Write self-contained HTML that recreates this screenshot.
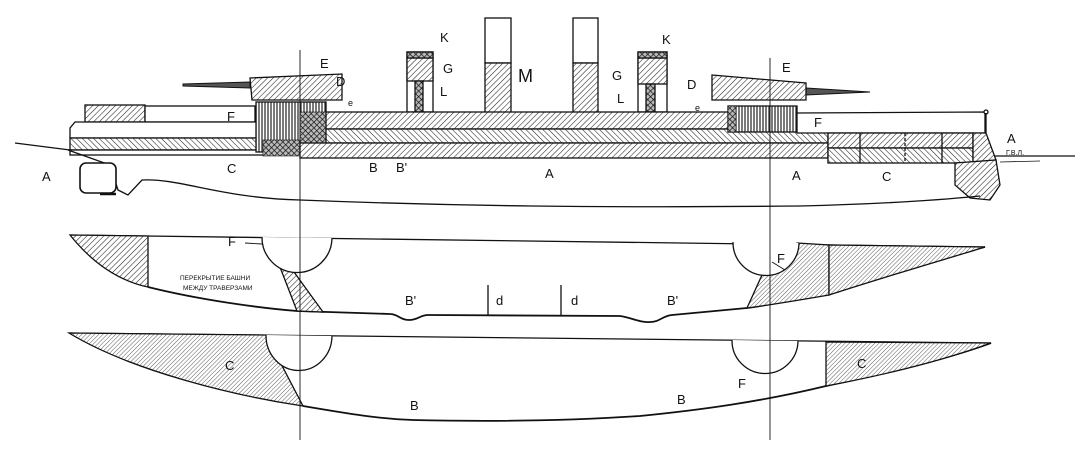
<!DOCTYPE html>
<html><head><meta charset="utf-8"><style>
html,body{margin:0;padding:0;background:#fff;}
svg{display:block;}
text{font-family:"Liberation Sans",sans-serif;fill:#111;}
</style></head><body>
<svg width="1079" height="461" viewBox="0 0 1079 461" xmlns="http://www.w3.org/2000/svg">
<defs>
<pattern id="h1" patternUnits="userSpaceOnUse" width="4" height="4" patternTransform="rotate(45)"><rect width="4" height="4" fill="#fff"/><line x1="0" y1="0" x2="0" y2="4" stroke="#222" stroke-width="1.1"/></pattern>
<pattern id="h2" patternUnits="userSpaceOnUse" width="4" height="4" patternTransform="rotate(-45)"><rect width="4" height="4" fill="#fff"/><line x1="0" y1="0" x2="0" y2="4" stroke="#222" stroke-width="1.1"/></pattern>
<pattern id="hv" patternUnits="userSpaceOnUse" width="3" height="6"><rect width="3" height="6" fill="#fff"/><line x1="1" y1="0" x2="1" y2="6" stroke="#222" stroke-width="1.2"/></pattern>
<pattern id="hx" patternUnits="userSpaceOnUse" width="4" height="4" patternTransform="rotate(45)"><rect width="4" height="4" fill="#bbb"/><line x1="0" y1="0" x2="0" y2="4" stroke="#111" stroke-width="1.4"/><line x1="0" y1="0" x2="4" y2="0" stroke="#111" stroke-width="1.4"/></pattern>
<pattern id="hf" patternUnits="userSpaceOnUse" width="3" height="3" patternTransform="rotate(45)"><rect width="3" height="3" fill="#fff"/><line x1="0" y1="0" x2="0" y2="3" stroke="#333" stroke-width="0.8"/></pattern>
</defs>
<g stroke="#111" stroke-width="1.3" fill="none">
<line x1="15" y1="143" x2="70" y2="150"/>
<line x1="985" y1="156" x2="1075" y2="156"/>
<line x1="1000" y1="162" x2="1040" y2="161" stroke-width="0.8"/>
<rect x="485" y="18" width="26" height="45" fill="#fff"/>
<rect x="485" y="63" width="26" height="50" fill="url(#h1)"/>
<rect x="573" y="18" width="25" height="45" fill="#fff"/>
<rect x="573" y="63" width="25" height="50" fill="url(#h1)"/>
<rect x="407" y="52" width="26" height="60" fill="#fff"/>
<rect x="407" y="58" width="26" height="23" fill="url(#h1)"/>
<rect x="407" y="52" width="26" height="6" fill="url(#hx)"/>
<rect x="415" y="81" width="8" height="31" fill="url(#hx)"/>
<rect x="638" y="52" width="29" height="60" fill="#fff"/>
<rect x="638" y="58" width="29" height="26" fill="url(#h1)"/>
<rect x="638" y="52" width="29" height="6" fill="url(#hx)"/>
<rect x="646" y="84" width="9" height="28" fill="url(#hx)"/>
<path d="M183 84 L250 82 L250 88 L183 86Z" fill="#555" stroke-width="1"/>
<path d="M806 88 L870 92 L806 95Z" fill="#555" stroke-width="1"/>
<path d="M250 78 L342 74 L342 100 L252 100 Z" fill="url(#h1)"/>
<path d="M712 75 L806 83 L806 100 L712 100 Z" fill="url(#h1)"/>
<rect x="85" y="105" width="60" height="17" fill="url(#h1)"/>
<rect x="145" y="106" width="110" height="16" fill="#fff"/>
<path d="M75 122 L265 122 L265 138 L70 138 L70 128 Z" fill="#fff"/>
<rect x="70" y="138" width="195" height="12" fill="url(#h2)"/>
<rect x="70" y="150" width="230" height="5" fill="#fff"/>
<rect x="256" y="102" width="70" height="50" fill="url(#hv)"/>
<rect x="300" y="112" width="26" height="32" fill="url(#hx)" stroke-width="0.6"/>
<rect x="263" y="140" width="37" height="16" fill="url(#hx)" stroke-width="0.6"/>
<rect x="326" y="112" width="404" height="17" fill="url(#h1)"/>
<rect x="326" y="129" width="502" height="14" fill="url(#h2)"/>
<rect x="300" y="143" width="528" height="15" fill="url(#h1)"/>
<rect x="728" y="106" width="69" height="26" fill="url(#hv)"/>
<rect x="728" y="106" width="8" height="26" fill="url(#hx)" stroke-width="0.6"/>
<path d="M797 113 L985 112 L985 133 L797 133 Z" fill="#fff"/>
<circle cx="986" cy="112" r="2" fill="#fff"/>
<rect x="828" y="133" width="145" height="15" fill="url(#h1)"/>
<rect x="828" y="148" width="145" height="15" fill="url(#h2)"/>
<line x1="860" y1="133" x2="860" y2="163"/><line x1="905" y1="133" x2="905" y2="163" stroke-dasharray="3,2"/><line x1="942" y1="133" x2="942" y2="163"/>
<path d="M973 133 L986 133 L996 160 L973 163 Z" fill="url(#h1)"/>
<path d="M955 163 L996 160 L1000 185 L990 200 L970 198 L955 185 Z" fill="url(#h1)"/>
<line x1="986" y1="113" x2="986" y2="133"/>
<path d="M68 150 L110 165 L118 190 L128 195 L142 180 C180 178 220 198 300 200 C450 206 600 208 800 206 C880 204 940 200 980 196" />
<rect x="80" y="163" width="36" height="30" rx="6" fill="#fff" stroke-width="1.6"/>
<line x1="100" y1="194" x2="116" y2="194" stroke-width="2.5"/>
<line x1="70" y1="235" x2="985" y2="247"/>
<path d="M70 235 L148 236 L148 287 C115 280 90 260 70 235Z" fill="url(#h1)"/>
<path d="M148 287 C200 300 260 308 297 311 L390 314 C398 314 400 320 409 320 C418 320 420 315 428 315 L620 316 C630 317 640 323 650 322 C660 322 662 316 672 315 L747 308 C790 302 820 293 840 285 C900 268 950 255 985 247" stroke-width="1.8"/>
<path d="M278 262 L294 272 L323 312 L297 311 Z" fill="url(#h1)"/>
<path d="M262 237 A35 35 0 0 0 332 238" fill="#fff"/>
<path d="M797 243 L829 245 L829 295 C800 300 770 305 747 308 L762 275 Z" fill="url(#hf)"/>
<path d="M829 245 L985 247 C950 258 900 272 829 295 Z" fill="url(#hf)"/>
<path d="M733 242 A33 33 0 0 0 799 243" fill="#fff"/>
<line x1="488" y1="285" x2="488" y2="315"/>
<line x1="561" y1="285" x2="561" y2="315"/>
<path d="M245 243 L262 244" stroke-width="0.9"/><path d="M772 262 L785 270" stroke-width="0.9"/>
<line x1="69" y1="333" x2="991" y2="343"/>
<path d="M69 333 L266 335 L303 406 C230 395 130 370 69 333 Z" fill="url(#hf)"/>
<path d="M303 406 C350 414 380 419 413 420 C500 422 580 420 640 416 C700 410 760 402 826 386 C900 370 950 358 991 343" stroke-width="1.8"/>
<path d="M826 342 L991 343 C950 358 900 372 826 386 Z" fill="url(#hf)"/>
<path d="M266 335 A33 35 0 0 0 332 336" fill="#fff"/>
<path d="M732 340 A33 33 0 0 0 798 341" fill="#fff"/>
<line x1="300" y1="50" x2="300" y2="440" stroke-width="0.9"/>
<line x1="770" y1="58" x2="770" y2="440" stroke-width="0.9"/>
</g>
<g font-size="13">
<text x="320" y="68">E</text><text x="336" y="86">D</text><text x="348" y="106" font-size="9">e</text>
<text x="227" y="121">F</text><text x="440" y="42">K</text><text x="443" y="73">G</text><text x="440" y="96">L</text>
<text x="518" y="82" font-size="18">M</text>
<text x="612" y="80">G</text><text x="662" y="44">K</text><text x="617" y="103">L</text>
<text x="687" y="89">D</text><text x="782" y="72">E</text><text x="695" y="111" font-size="9">e</text>
<text x="814" y="127">F</text>
<text x="42" y="181">A</text><text x="227" y="173">C</text><text x="369" y="172">B</text><text x="396" y="172">B'</text>
<text x="545" y="178">A</text><text x="792" y="180">A</text><text x="882" y="181">C</text><text x="1007" y="143">A</text>
<text x="1006" y="155" font-size="7">Г.В.Л.</text>
<text x="228" y="246">F</text><text x="777" y="263">F</text>
<text x="405" y="305">B'</text><text x="496" y="305">d</text><text x="571" y="305">d</text><text x="667" y="305">B'</text>
<text x="225" y="370">C</text><text x="857" y="368">C</text><text x="410" y="410">B</text><text x="677" y="404">B</text><text x="738" y="388">F</text>
<text x="180" y="280" font-size="6.5">ПЕРЕКРЫТИЕ БАШНИ</text><text x="183" y="290" font-size="6.5">МЕЖДУ ТРАВЕРЗАМИ</text>
</g>
</svg>
</body></html>
